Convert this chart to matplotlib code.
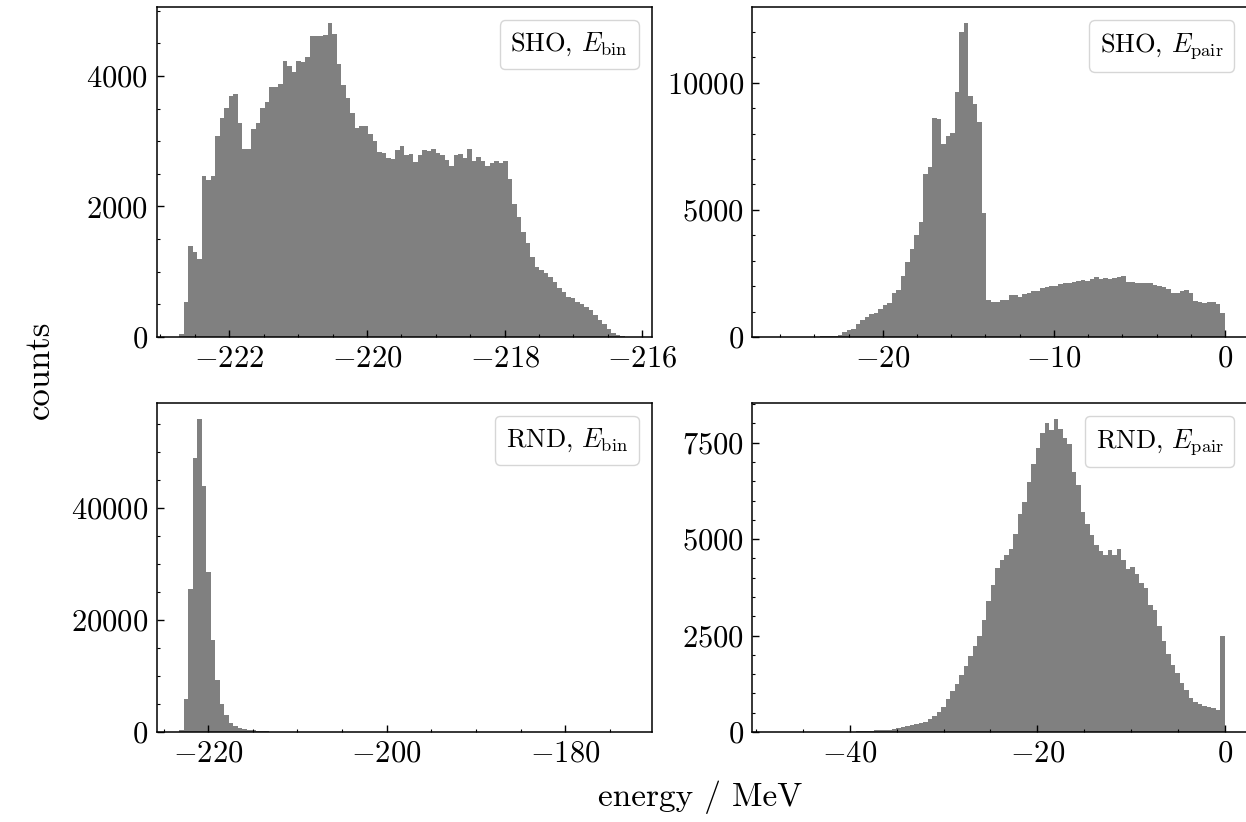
import numpy as np
import matplotlib
matplotlib.use('Agg')
import matplotlib.pyplot as plt
from matplotlib.ticker import MultipleLocator, AutoMinorLocator

plt.rcParams['font.family'] = 'serif'
plt.rcParams['font.serif'] = ['cmr10']
plt.rcParams['mathtext.fontset'] = 'cm'
plt.rcParams['axes.formatter.use_mathtext'] = True
plt.rcParams['axes.unicode_minus'] = True

# bin ranges (first edge, last edge), 100 bins each
range_sho_bin = (-222.73, -216.19)
range_sho_pair = (-26.31, 0.0)
range_rnd_bin = (-223.27, -172.83)
range_rnd_pair = (-47.98, 0.0)
nbins = 100

# counts per bin
sho_bin = [50, 538, 1395, 1297, 1190, 2461, 2400, 2461, 3077, 3349,
           3513, 3692, 3728, 3272, 2887, 2887, 3179, 3282, 3513, 3605,
           3836, 3831, 3872, 4226, 4154, 4062, 4226, 4210, 4282, 4605,
           4605, 4615, 4631, 4810, 4646, 4180, 3856, 3656, 3436, 3205,
           3231, 3231, 3103, 3000, 2836, 2820, 2743, 2733, 2862, 2923,
           2795, 2810, 2677, 2795, 2872, 2846, 2882, 2820, 2795, 2718,
           2625, 2785, 2810, 2743, 2882, 2692, 2754, 2692, 2625, 2667,
           2692, 2667, 2703, 2426, 2041, 1836, 1615, 1436, 1231, 1067,
           1026, 985, 913, 846, 744, 682, 615, 590, 538, 503,
           462, 410, 333, 267, 205, 128, 67, 36, 10, 3]

sho_pair = [5, 0, 3, 10, 8, 12, 6, 10, 14, 10,
            20, 25, 30, 50, 92, 197, 290, 330, 500, 658,
            790, 895, 948, 1119, 1250, 1342, 1711, 1842, 2395, 2935,
            3448, 4000, 4527, 6396, 6672, 8620, 8554, 7593, 7896, 8028,
            9633, 12002, 12344, 9475, 9146, 8449, 4869, 1448, 1382, 1382,
            1474, 1474, 1645, 1645, 1579, 1684, 1737, 1803, 1803, 1908,
            1948, 2013, 2013, 2079, 2106, 2132, 2171, 2211, 2237, 2211,
            2264, 2342, 2290, 2329, 2264, 2303, 2342, 2395, 2171, 2158,
            2132, 2106, 2132, 2132, 2040, 2013, 1974, 1869, 1737, 1711,
            1816, 1842, 1737, 1421, 1382, 1355, 1382, 1382, 1290, 948]

rnd_bin = [357, 5870, 25425, 48827, 55864, 43922, 28523, 16473, 9257, 5067,
           3035, 1666, 1071, 774, 595, 417, 357, 238, 160, 110,
           75, 55, 40, 30, 22, 16, 12, 9, 7, 5,
           4, 3, 3, 2, 2, 2, 1, 1, 1, 1,
           1, 0, 1, 0, 1, 0, 0, 1, 0, 0,
           1, 0, 0, 0, 1, 0, 0, 0, 0, 1,
           0, 0, 0, 0, 0, 1, 0, 0, 0, 0,
           0, 0, 1, 0, 0, 0, 0, 0, 0, 0,
           0, 0, 0, 0, 1, 0, 0, 0, 0, 0,
           0, 0, 0, 0, 0, 0, 0, 0, 0, 1]

rnd_pair = [1, 0, 1, 0, 0, 1, 1, 1, 2, 2,
            3, 3, 4, 5, 6, 8, 10, 12, 15, 20,
            28, 35, 40, 45, 50, 60, 70, 100, 120, 150,
            170, 200, 230, 270, 330, 420, 520, 640, 850, 1050,
            1250, 1480, 1720, 1980, 2220, 2483, 2915, 3391, 3823, 4256,
            4450, 4600, 4732, 5121, 5640, 5969, 6479, 6937, 7370, 7759,
            8019, 7820, 8122, 7846, 7629, 7456, 6738, 6392, 5700, 5380,
            5095, 4844, 4688, 4585, 4714, 4585, 4732, 4446, 4213, 4282,
            4083, 3867, 3737, 3304, 3175, 2742, 2353, 2033, 1747, 1531,
            1272, 1099, 882, 780, 720, 680, 640, 610, 578, 2480]

labels = ['SHO, $E_\\mathrm{bin}$', 'SHO, $E_\\mathrm{pair}$',
          'RND, $E_\\mathrm{bin}$', 'RND, $E_\\mathrm{pair}$']

W, H = 1246, 822
fig = plt.figure(figsize=(W/100, H/100), dpi=100)

# axes boxes in pixels (left, top, right, bottom)
boxes = [(156.5, 7.3, 651.7, 337.0), (752.3, 7.3, 1247.5, 337.0),
         (156.5, 403.0, 651.7, 732.0), (752.3, 403.0, 1247.5, 732.0)]
panels = [(sho_bin, range_sho_bin, 2, 2000),
          (sho_pair, range_sho_pair, 10, 5000),
          (rnd_bin, range_rnd_bin, 20, 20000),
          (rnd_pair, range_rnd_pair, 20, 2500)]

for (l, t, r, b), (counts, rng, xstep, ystep), lab in zip(boxes, panels, labels):
    ax = fig.add_axes([l/W, 1-b/H, (r-l)/W, (b-t)/H])
    edges = np.linspace(rng[0], rng[1], nbins+1)
    ax.stairs(counts, edges, fill=True, color='gray', label=lab)
    ax.xaxis.set_major_locator(MultipleLocator(xstep))
    ax.yaxis.set_major_locator(MultipleLocator(ystep))
    ax.xaxis.set_minor_locator(AutoMinorLocator())
    ax.yaxis.set_minor_locator(AutoMinorLocator())
    ax.tick_params(which='both', direction='in', top=False, right=False, labelsize=22, pad=6)
    ax.tick_params(which='major', length=5, width=1)
    ax.tick_params(which='minor', length=2.5, width=0.8)
    for s in ax.spines.values():
        s.set_linewidth(1.1)
    ax.legend(loc='upper right', fontsize=19, handlelength=0, handletextpad=0)

fig.text(40/W, 1-370/H, 'counts', rotation=90, ha='center', va='center', fontsize=25)
fig.text(700/W, 1-797/H, 'energy / MeV', ha='center', va='center', fontsize=24)

fig.savefig('out.png', dpi=100)
